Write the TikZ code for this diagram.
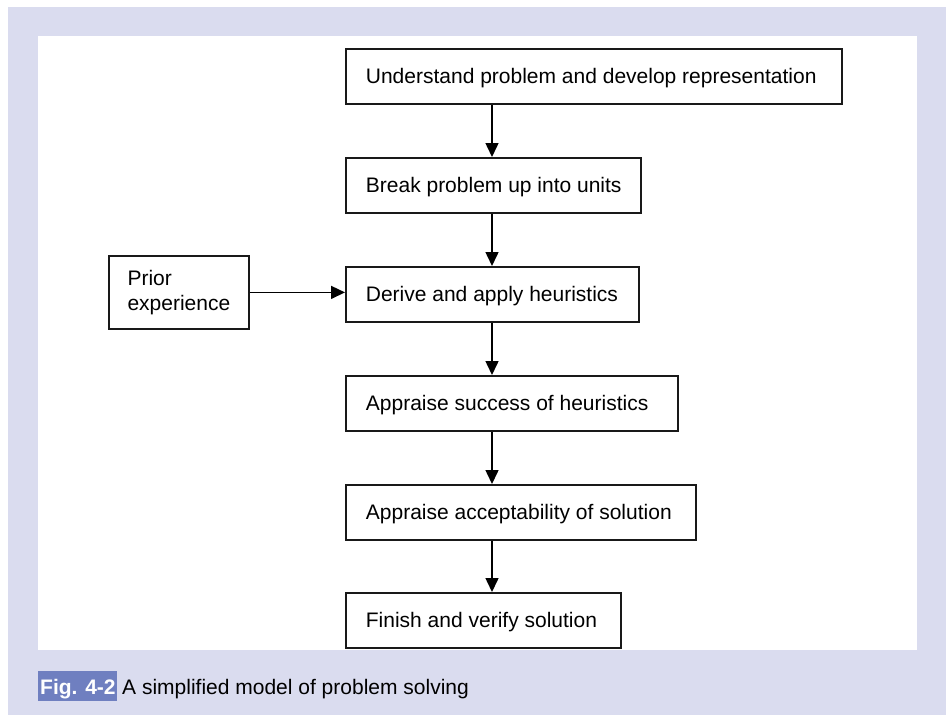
\documentclass[tikz,border=0pt]{standalone}
\usepackage{fontspec}
\setmainfont{Liberation Sans}
\usetikzlibrary{arrows.meta}
\definecolor{lav}{HTML}{DADCEF}
\definecolor{figblue}{HTML}{6F7FC0}
\begin{document}
\begin{tikzpicture}[x=1pt,y=-1pt,
  stepbox/.style={draw=black!90,line width=1.8pt,anchor=north west,inner xsep=20pt,inner ysep=0pt,
    minimum height=55pt,align=left,font=\fontsize{21}{24}\selectfont,text height=16pt,text depth=2pt},
  flow/.style={line width=1.5pt,-{Triangle[length=14pt,width=13pt]}}]
\useasboundingbox (0,0) rectangle (947,715);
\fill[white] (0,0) rectangle (947,715);
\fill[lav] (8,7) rectangle (946,715);
\fill[white] (38,36) rectangle (917,650);
\fill[figblue] (38,671) rectangle (117,701);
\node[anchor=base west,inner sep=0pt,font=\fontsize{21}{24}\selectfont\bfseries,text=white] (figlbl) at (40,694) {Fig. 4-2};
\node[anchor=base west,inner sep=0pt,font=\fontsize{21}{24}\selectfont] (figcap) at (122,694) {A simplified model of problem solving};
\node[stepbox] (b1) at (345,48) {\makebox[456pt][l]{Understand problem and develop representation}};
\node[stepbox] (b2) at (345,157) {\makebox[255pt][l]{Break problem up into units}};
\node[stepbox] (b3) at (345,266) {\makebox[253pt][l]{Derive and apply heuristics}};
\node[stepbox] (b4) at (345,375) {\makebox[292pt][l]{Appraise success of heuristics}};
\node[stepbox] (b5) at (345,484) {\makebox[310pt][l]{Appraise acceptability of solution}};
\node[stepbox] (b6) at (345,592) {\makebox[235pt][l]{Finish and verify solution}};
\node[stepbox,text height=,text depth=,inner xsep=18pt,minimum height=73pt,minimum width=140pt,font=\fontsize{21}{25}\selectfont] (pe) at (108,255) {Prior\\experience};
\draw[flow] (b1.south -| 492,0) -- (b2.north -| 492,0);
\draw[flow] (b2.south -| 492,0) -- (b3.north -| 492,0);
\draw[flow] (b3.south -| 492,0) -- (b4.north -| 492,0);
\draw[flow] (b4.south -| 492,0) -- (b5.north -| 492,0);
\draw[flow] (b5.south -| 492,0) -- (b6.north -| 492,0);
\draw[flow] (pe.east) -- (pe.east -| b3.west);
\end{tikzpicture}
\end{document}
